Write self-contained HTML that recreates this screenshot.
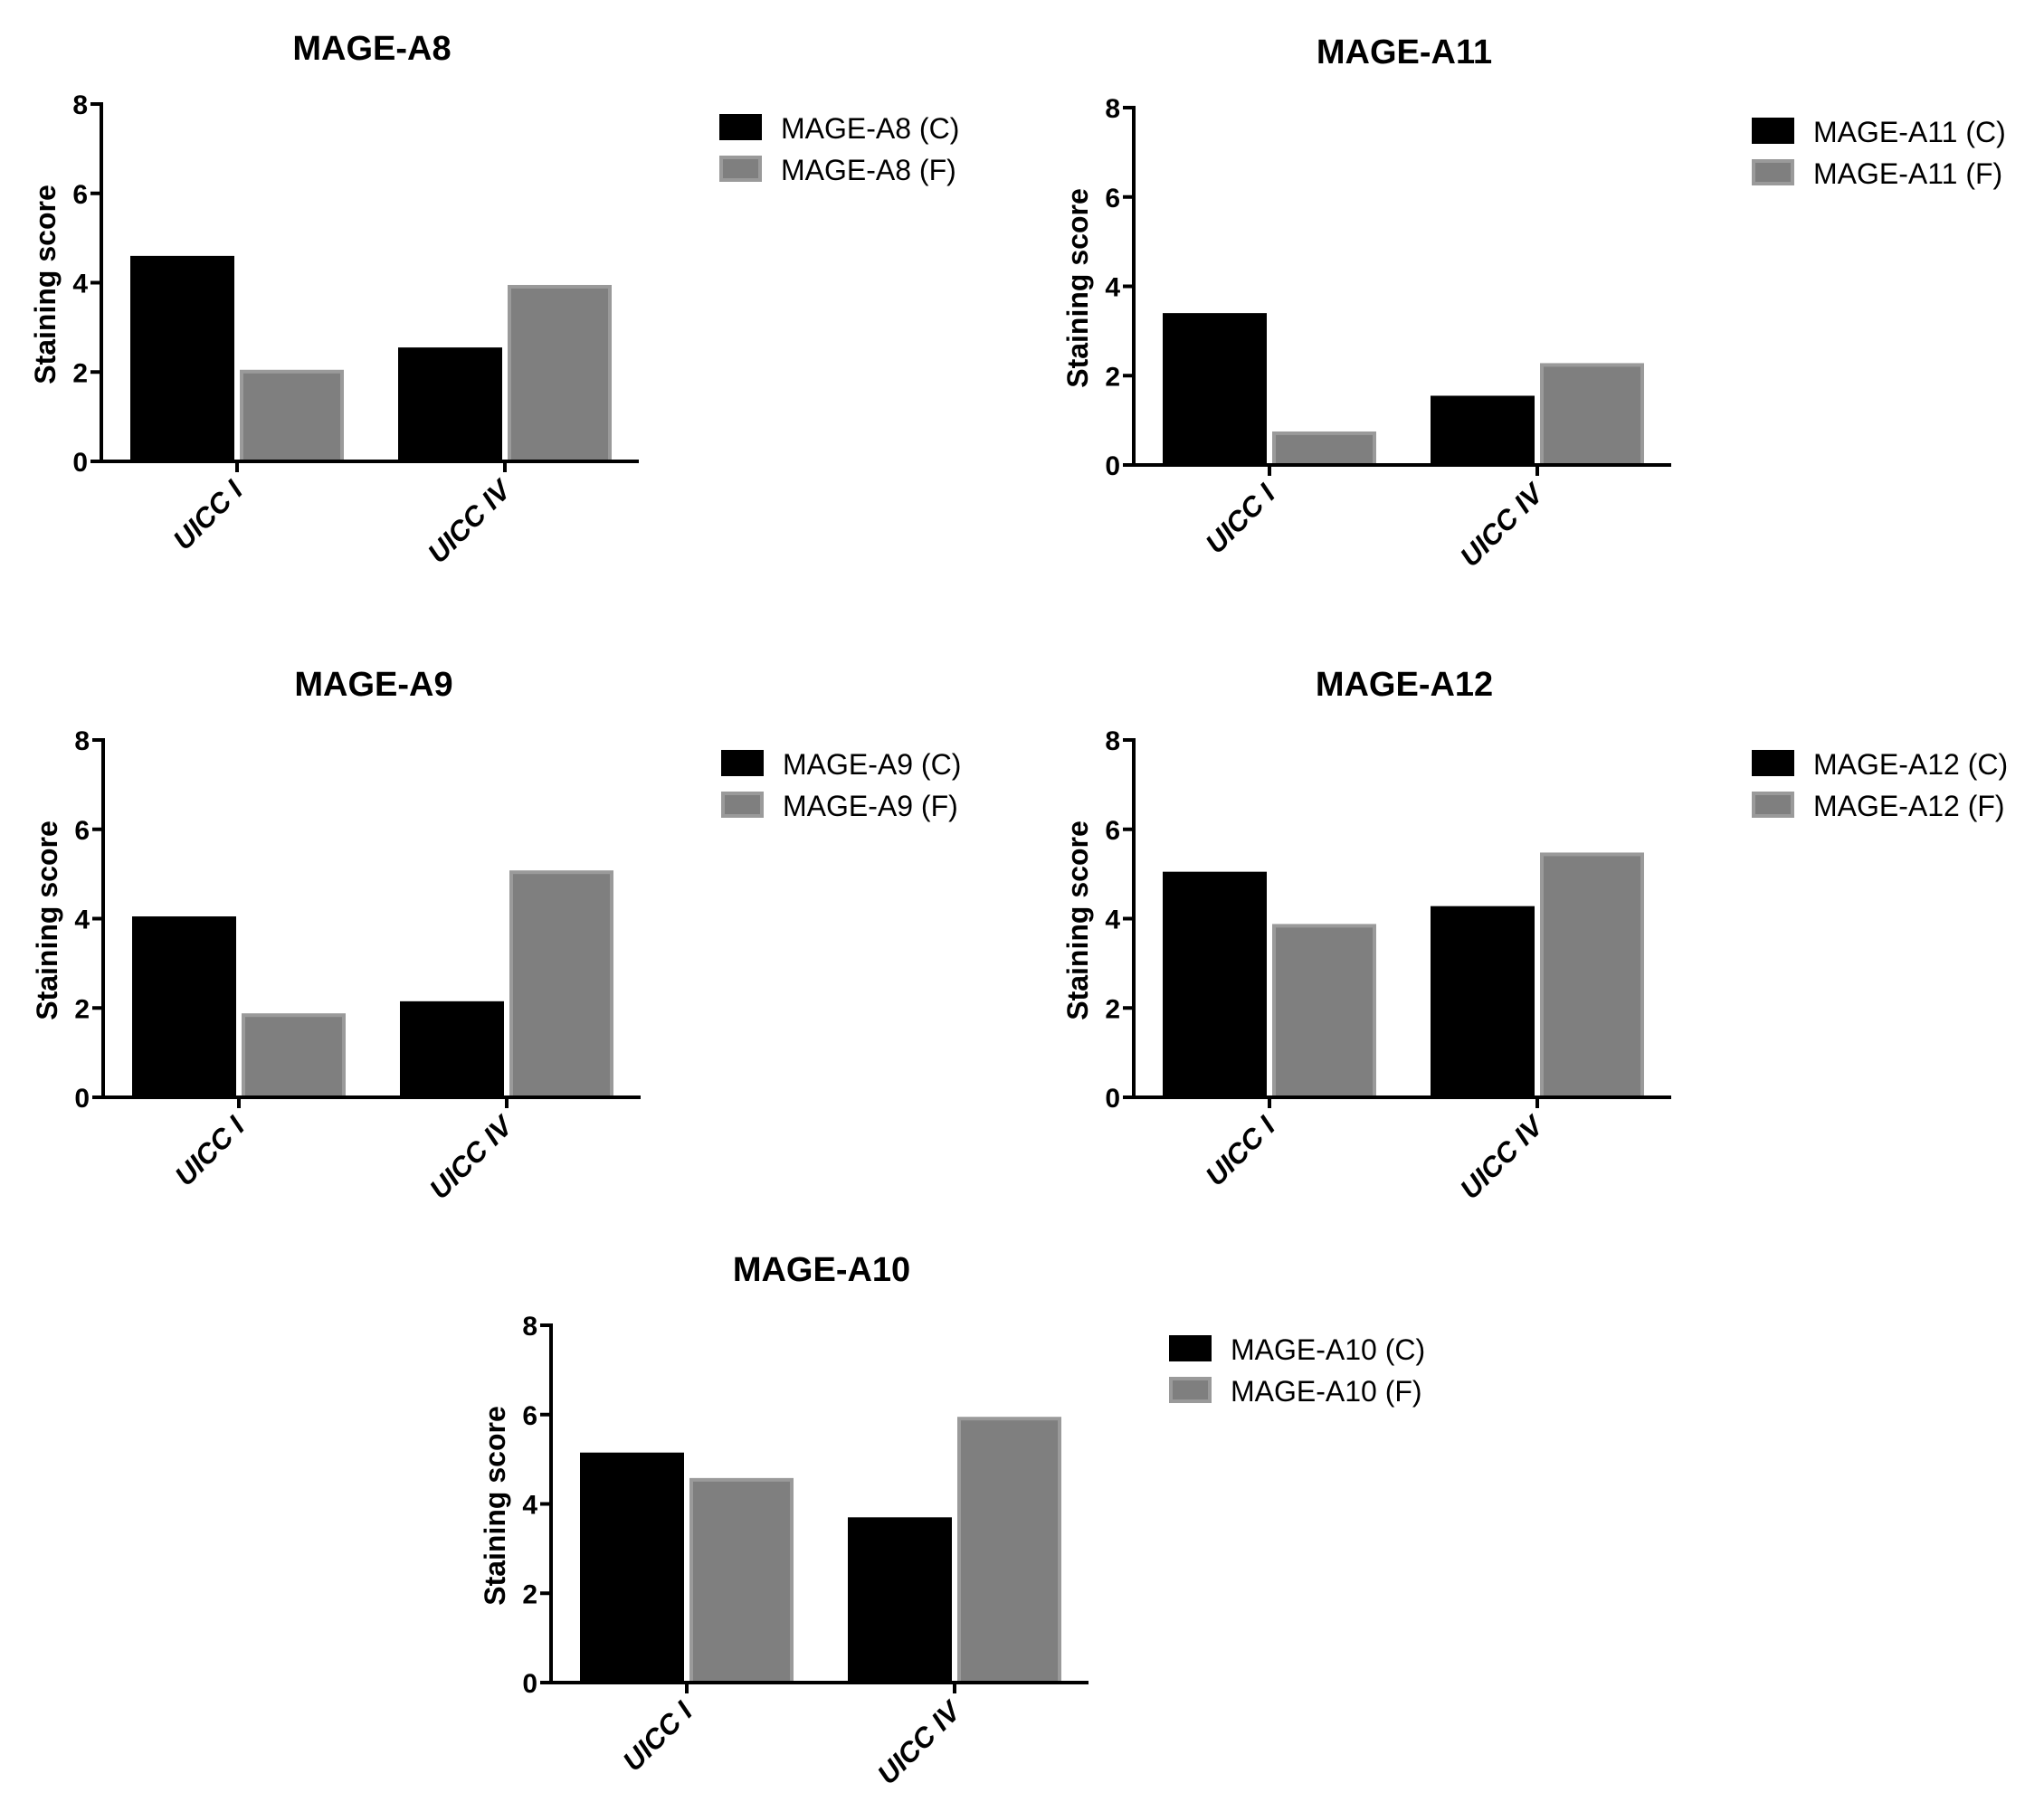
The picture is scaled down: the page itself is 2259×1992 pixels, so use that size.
<!DOCTYPE html>
<html><head><meta charset="utf-8"><style>
body{margin:0;background:#fff}
svg{display:block}
text{font-family:"Liberation Sans",Arial,sans-serif}
</style></head><body>
<svg id="s" width="2259" height="1992" viewBox="0 0 2259 1992"></svg>
<script>
const titles=["MAGE-A8","MAGE-A11","MAGE-A9","MAGE-A12","MAGE-A10"];
const categories=["UICC I","UICC IV"];
const valuesC=[[4.6,2.55],[3.4,1.55],[4.05,2.15],[5.05,4.28],[5.15,3.7]];
const valuesF=[[2.05,3.95],[0.75,2.28],[1.88,5.08],[3.88,5.48],[4.58,5.95]];
const yTicks=[0,2,4,6,8];
const origins=[[112,510],[1253,514],[114,1213],[1253,1213],[609,1860]];
const NS="http://www.w3.org/2000/svg";
const svg=document.getElementById('s');
function el(t,a,p){const e=document.createElementNS(NS,t);for(const k in a)e.setAttribute(k,a[k]);(p||svg).appendChild(e);return e;}
const H=395,W=594;
titles.forEach((title,i)=>{
  const [ax,y0]=origins[i];
  const g=el('g',{});
  
  
  const y=v=>y0-v/8*H;
  const groupCenter=j=>ax+150+j*296;
  const t=el('text',{x:ax+299,y:y0-H-49,'text-anchor':'middle','font-size':38,'font-weight':'bold'},g);
  t.textContent=title;
  
  
  categories.forEach((c,j)=>{
    const cx=groupCenter(j);
    const vc=valuesC[i][j], vf=valuesF[i][j];
    const b1=el('rect',{x:cx-118,y:y(vc),width:115,height:y0-y(vc),fill:'#000'},g);
    
    
    const b2=el('rect',{x:cx+5,y:y(vf)+2,width:111,height:y0-y(vf)-2,fill:'#7f7f7f',stroke:'#9a9a9a','stroke-width':4},g);
    
    
    el('line',{x1:cx,x2:cx,y1:y0,y2:y0+12,stroke:'#000','stroke-width':4},g);
    const lt=el('text',{x:0,y:0,'text-anchor':'end','font-size':31,'font-weight':'bold','font-style':'italic',transform:`translate(${cx+8},${y0+34}) rotate(-45)`},g);
    lt.textContent=c;
    
    
  });
  const ya=el('line',{x1:ax,x2:ax,y1:y0-H-2,y2:y0+2,stroke:'#000','stroke-width':4},g);
  
  
  const xa=el('line',{x1:ax-12,x2:ax+W,y1:y0,y2:y0,stroke:'#000','stroke-width':4},g);
  
  
  yTicks.forEach(v=>{
    el('line',{x1:ax-12,x2:ax,y1:y(v),y2:y(v),stroke:'#000','stroke-width':4},g);
    const tt=el('text',{x:ax-15,y:y(v)+11,'text-anchor':'end','font-size':30,'font-weight':'bold'},g);
    tt.textContent=v;
    
    
  });
  const yt=el('text',{x:0,y:0,'text-anchor':'middle','font-size':32,'font-weight':'bold',transform:`translate(${ax-51},${y0-H/2+2}) rotate(-90)`},g);
  yt.textContent='Staining score';
  
  
  const lx=ax+683, ly=y0-H+11;
  const s1=el('rect',{x:lx,y:ly,width:47,height:29,fill:'#000'},g);
  
  
  const s2=el('rect',{x:lx+2,y:ly+48,width:43,height:25,fill:'#7f7f7f',stroke:'#9a9a9a','stroke-width':4},g);
  
  
  const l1=el('text',{x:lx+68,y:ly+27,'font-size':32},g);
  l1.textContent=title+' (C)';
  
  
  const l2=el('text',{x:lx+68,y:ly+73,'font-size':32},g);
  l2.textContent=title+' (F)';
  
  
});
</script>
</body></html>
